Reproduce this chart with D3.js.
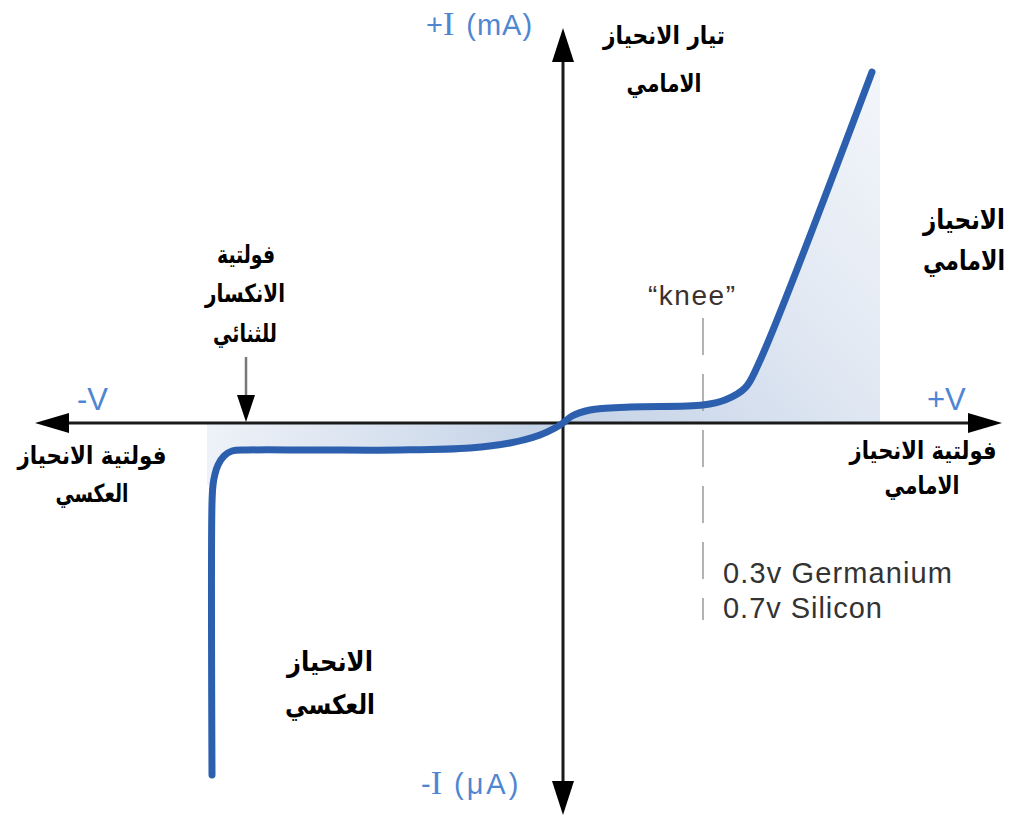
<!DOCTYPE html>
<html>
<head>
<meta charset="utf-8">
<script src="https://cdn.jsdelivr.net/npm/d3@7"></script>
<style>
  html, body { margin: 0; padding: 0; background: #fff; }
  svg { display: block; }
  .ar { font-family: "DejaVu Sans", "Liberation Sans", sans-serif; font-weight: bold; fill: #000; }
  .blue { font-family: "Liberation Sans", "DejaVu Sans", sans-serif; fill: #4f86d2; }
  .grey { font-family: "Liberation Sans", "DejaVu Sans", sans-serif; fill: #333; }
</style>
</head>
<body>
<script>
// ---- data (arbitrary voltage units, arbitrary current units) ----
const curveV = [-3.51, -3.51, -3.50, -3.48, -3.45, -3.39, -3.31, -3.15, -2.5, -1.63, -0.93, -0.53, -0.23, -0.08, 0, 0.09, 0.27, 0.67, 1.40, 1.62, 1.82, 1.95, 3.09];
const curveI = [-3.52, -0.80, -0.62, -0.51, -0.42, -0.33, -0.28, -0.27, -0.27, -0.27, -0.25, -0.20, -0.12, -0.05, 0, 0.07, 0.13, 0.16, 0.18, 0.23, 0.35, 0.58, 3.51];
const kneeV = 1.40;
const breakdownV = -3.17;
const shadeLeftV = -3.56;
const shadeRightV = 3.17;
const axisSigns = ["+", "-"];
const axisUnits = ["(mA)", "(μA)"];
const voltLabels = ["-V", "+V"];
const materialLabels = ["0.3v Germanium", "0.7v Silicon"];

const W = 1010, H = 818;
const svg = d3.select("body").append("svg").attr("width", W).attr("height", H);

const x = d3.scaleLinear().domain([-5.28, 4.39]).range([35, 1002]);
const y = d3.scaleLinear().domain([-3.92, 3.95]).range([815, 28]);

const pts = curveV.map((v, k) => [v, curveI[k]]);

// gradients
const defs = svg.append("defs");
const gRev = defs.append("linearGradient").attr("id", "gRev").attr("x1", "0").attr("y1", "0").attr("x2", "1").attr("y2", "0");
gRev.append("stop").attr("offset", "0").attr("stop-color", "#eef2f8");
gRev.append("stop").attr("offset", "1").attr("stop-color", "#c2d1e6");
const gFwd = defs.append("linearGradient").attr("id", "gFwd").attr("x1", "0").attr("y1", "1").attr("x2", "1").attr("y2", "0");
gFwd.append("stop").attr("offset", "0").attr("stop-color", "#c4d2e7");
gFwd.append("stop").attr("offset", "0.55").attr("stop-color", "#e2e9f3");
gFwd.append("stop").attr("offset", "1").attr("stop-color", "#f3f6fa");

const lin = d3.line().x(d => x(d[0])).y(d => y(d[1]));

// reverse shading
const revPts = [[shadeLeftV, 0], [0, 0]]
  .concat(pts.filter(p => p[0] <= 0 && p[1] > -0.7).reverse())
  .concat([[shadeLeftV, -0.62]]);
svg.append("path").attr("d", lin(revPts) + "Z").attr("fill", "url(#gRev)");

// forward shading
const fwdPts = pts.filter(p => p[0] >= 0)
  .concat([[shadeRightV, pts[pts.length - 1][1]], [shadeRightV, 0]]);
svg.append("path").attr("d", lin(fwdPts) + "Z").attr("fill", "url(#gFwd)");

// knee dashed line
svg.append("line")
  .attr("x1", x(kneeV)).attr("x2", x(kneeV))
  .attr("y1", y(1.05)).attr("y2", y(-1.97))
  .attr("stroke", "#a0a0a0").attr("stroke-width", 1.6)
  .attr("stroke-dasharray", "37,19");

// axes
const axisCol = "#1a1a1a";
svg.append("line").attr("x1", x(-5.0)).attr("x2", x(4.1)).attr("y1", y(0)).attr("y2", y(0))
  .attr("stroke", axisCol).attr("stroke-width", 3);
svg.append("line").attr("x1", x(0)).attr("x2", x(0)).attr("y1", y(3.65)).attr("y2", y(-3.62))
  .attr("stroke", axisCol).attr("stroke-width", 3);

function arrowHead(tx, ty, dir, len, half) {
  let p;
  if (dir === "l") p = [[tx, ty], [tx + len, ty - half], [tx + len, ty + half]];
  if (dir === "r") p = [[tx, ty], [tx - len, ty - half], [tx - len, ty + half]];
  if (dir === "u") p = [[tx, ty], [tx - half, ty + len], [tx + half, ty + len]];
  if (dir === "d") p = [[tx, ty], [tx - half, ty - len], [tx + half, ty - len]];
  svg.append("path").attr("d", "M" + p.map(q => q.join(",")).join("L") + "Z").attr("fill", "#000");
}
arrowHead(x(-5.28), y(0), "l", 34, 10);
arrowHead(x(4.39), y(0), "r", 34, 10);
arrowHead(x(0), y(3.95), "u", 34, 11);
arrowHead(x(0), y(-3.92), "d", 34, 11);

// breakdown arrow
svg.append("line").attr("x1", x(breakdownV)).attr("x2", x(breakdownV))
  .attr("y1", y(0.66)).attr("y2", y(0.2))
  .attr("stroke", "#777").attr("stroke-width", 2.5);
arrowHead(x(breakdownV), y(0.01), "d", 27, 9);

// curve
svg.append("path")
  .attr("d", d3.line().x(d => x(d[0])).y(d => y(d[1])).curve(d3.curveCatmullRom.alpha(0.5))(pts))
  .attr("fill", "none").attr("stroke", "#2c60ae").attr("stroke-width", 7)
  .attr("stroke-linecap", "round").attr("stroke-linejoin", "round");

// blue current labels
function currentLabel(sign, unit, px, py, uw) {
  const t = svg.append("text").attr("class", "blue").attr("x", px).attr("y", py).attr("font-size", 29);
  t.append("tspan").text(sign);
  t.append("tspan").attr("font-family", "Liberation Serif, DejaVu Serif, serif").attr("font-size", 34).text("I");
  t.append("tspan").attr("dx", 12).attr("font-size", 29).attr("letter-spacing", uw).text(unit);
}
currentLabel(axisSigns[0], axisUnits[0], 426, 35, 1);
currentLabel(axisSigns[1], axisUnits[1], 421, 794, 3);
svg.append("text").attr("class", "blue").attr("x", 77).attr("y", 410).attr("font-size", 31).text(voltLabels[0]);
svg.append("text").attr("class", "blue").attr("x", 927).attr("y", 410).attr("font-size", 31).text(voltLabels[1]);

// material labels
svg.append("text").attr("class", "grey").attr("x", 723).attr("y", 583).attr("font-size", 29)
  .attr("textLength", 229).attr("lengthAdjust", "spacing").text(materialLabels[0]);
svg.append("text").attr("class", "grey").attr("x", 723).attr("y", 618).attr("font-size", 29)
  .attr("textLength", 159).attr("lengthAdjust", "spacing").text(materialLabels[1]);

// knee label
svg.append("text").attr("class", "grey").attr("x", 648).attr("y", 305).attr("font-size", 28)
  .attr("textLength", 87).attr("lengthAdjust", "spacing")
  .style("fill", "#3d302c").text("\u201Cknee\u201D");

// Arabic labels: [text, centerX, baseline, width, size]
function arLabel(lines) {
  lines.forEach(([ln, cx, by, w, size]) => {
    svg.append("text").attr("class", "ar")
      .attr("transform", `translate(${cx},${by}) scale(1,${size / 21})`)
      .attr("x", 0).attr("y", 0)
      .attr("text-anchor", "middle").attr("font-size", 21)
      .attr("textLength", w).attr("lengthAdjust", "spacingAndGlyphs")
      .text(ln);
  });
}
arLabel([
  ["تيار الانحياز", 664, 44, 122, 25],
  ["الامامي", 664, 92, 75, 25],
  ["فولتية", 246, 263, 58, 25],
  ["الانكسار", 245, 302, 80, 25],
  ["للثنائي", 245, 342, 64, 25],
  ["الانحياز", 964, 229, 82, 27],
  ["الامامي", 964, 270, 82, 27],
  ["فولتية الانحياز", 92, 464, 149, 25],
  ["العكسي", 92, 502, 73, 25],
  ["فولتية الانحياز", 923, 459, 147, 25],
  ["الامامي", 922, 494, 75, 25],
  ["الانحياز", 330, 671, 86, 27],
  ["العكسي", 330, 714, 90, 27]
]);
</script>
</body>
</html>
